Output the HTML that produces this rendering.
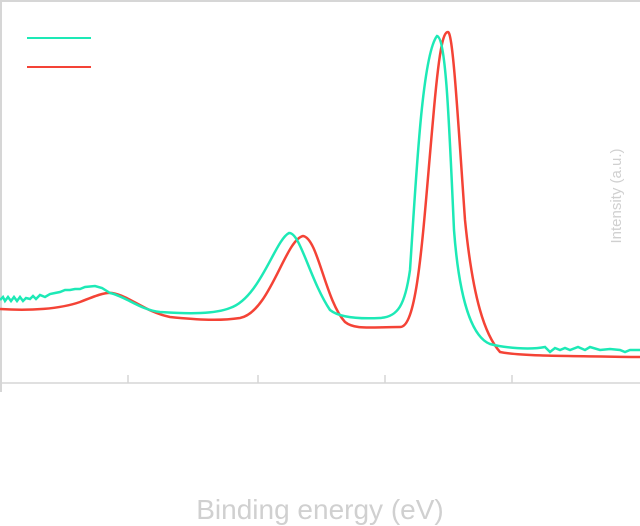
<!DOCTYPE html>
<html><head><style>body{margin:0;background:#fff}svg{display:block}</style></head><body>
<svg width="640" height="526" viewBox="0 0 640 526" xmlns="http://www.w3.org/2000/svg">
<line x1="0" y1="1" x2="640" y2="1" stroke="#d6d6d6" stroke-width="2"/>
<line x1="1" y1="0" x2="1" y2="392" stroke="#d6d6d6" stroke-width="2"/>
<line x1="0" y1="383" x2="640" y2="383" stroke="#d6d6d6" stroke-width="1.5"/>
<g stroke="#d6d6d6" stroke-width="1.5">
<line x1="128" y1="375" x2="128" y2="383"/><line x1="258" y1="375" x2="258" y2="383"/>
<line x1="385" y1="375" x2="385" y2="383"/><line x1="512" y1="375" x2="512" y2="383"/></g>
<line x1="27" y1="38" x2="91" y2="38" stroke="#1de9b6" stroke-width="2"/>
<line x1="27" y1="67" x2="91" y2="67" stroke="#f44336" stroke-width="2"/>
<path fill="none" stroke="#f44336" stroke-width="2.5" d="M0,309 C30,311 60,309 80,302 C95,296 105,292 112,293 C130,296 145,312 170,317 C200,320 220,321 240,318 C270,312 285,240 303,236 C318,238 325,300 345,322 C355,330 370,327 400,327 C418,328 423,230 433,120 C439,50 443,32 448,32 C453,32 458,120 465,220 C473,300 485,335 500,352 C520,356 560,356 640,357"/>
<path fill="none" stroke="#1de9b6" stroke-width="2.5" d="M0,300 L3,297 5,301 8,297 11,301 14,297 17,301 20,297 23,301 26,298 30,299 33,296 36,299 40,295 45,297 50,294 55,293 60,292 65,290 70,290 75,289 80,289 85,287 95,286 102,288 110,293 C125,296 140,310 160,312 C190,314 215,314 230,308 C260,298 275,240 289,233 C300,232 310,280 330,310 C340,318 360,319 380,318 C398,317 405,305 410,270 C416,180 422,55 437,36 C446,38 449,120 454,230 C460,310 475,338 490,344 C505,348 530,350 545,347 L550,352 555,348 560,350 565,348 570,350 578,347 585,350 590,347 600,350 610,349 620,350 625,352 630,350 640,350"/>
<text x="621" y="196" transform="rotate(-90 621 196)" text-anchor="middle" font-family="Liberation Sans, sans-serif" font-size="15" fill="#d0d0d0">Intensity (a.u.)</text>
<text x="320" y="519" text-anchor="middle" font-family="Liberation Sans, sans-serif" font-size="28" fill="#d0d0d0">Binding energy (eV)</text>
</svg>
</body></html>
